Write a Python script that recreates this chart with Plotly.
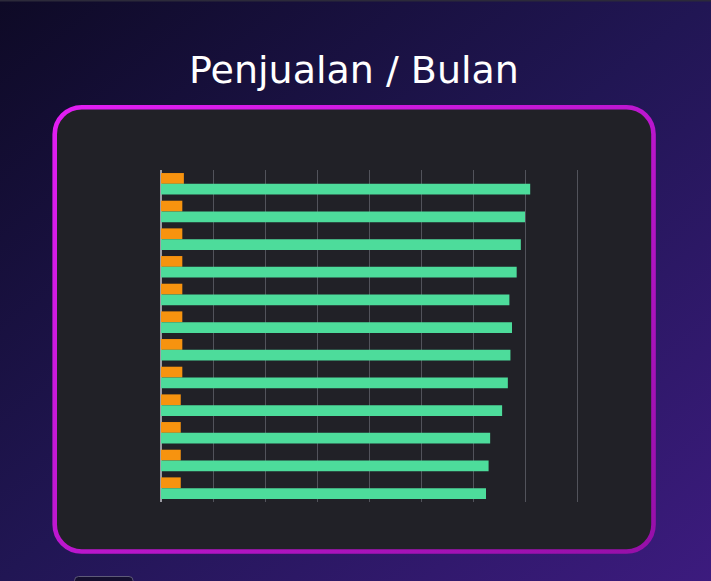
import base64
import plotly.graph_objects as go

# ---- data ----
months = ["Jan", "Feb", "Mar", "Apr", "Mei", "Jun", "Jul", "Agu", "Sep", "Okt", "Nov", "Des"]
orange_values = [44, 41, 41, 41, 41, 41, 41, 41, 38, 38, 38, 38]
green_values = [710, 700, 692, 684, 670, 675, 672, 667, 656, 633, 630, 625]

W, H = 711, 581

bg_svg = f"""<svg xmlns='http://www.w3.org/2000/svg' width='{W}' height='{H}' viewBox='0 0 {W} {H}' preserveAspectRatio='none'>
<defs>
<linearGradient id='bg' x1='0' y1='0' x2='1' y2='1'>
<stop offset='0' stop-color='#0e0a26'/><stop offset='0.5' stop-color='#211654'/><stop offset='1' stop-color='#3c1b7e'/>
</linearGradient>
<linearGradient id='bd' x1='0' y1='0' x2='1' y2='1'>
<stop offset='0' stop-color='#e21ef4'/><stop offset='1' stop-color='#960fa8'/>
</linearGradient>
</defs>
<rect width='{W}' height='{H}' fill='url(#bg)'/>
<rect x='0' y='0' width='{W}' height='1.5' fill='#2c2a3a'/>
<rect x='54.7' y='107.2' width='598.8' height='444.3' rx='27' ry='27' fill='#212127' stroke='url(#bd)' stroke-width='4.6'/>
<rect x='74.5' y='576.5' width='58.5' height='20' rx='4' ry='4' fill='#150f30' stroke='#5e5a78' stroke-width='1'/>
</svg>"""
bg_uri = "data:image/svg+xml;base64," + base64.b64encode(bg_svg.encode()).decode()

fig = go.Figure()
fig.add_trace(go.Bar(
    y=months, x=orange_values, orientation="h", name="Unit",
    marker=dict(color="#f7930f", line=dict(width=0)),
))
fig.add_trace(go.Bar(
    y=months, x=green_values, orientation="h", name="Pendapatan",
    marker=dict(color="#4ddc9b", line=dict(width=0)),
))

x_max = 802
x0_px = 161
x1_px = x0_px + x_max * 0.52
y_top_px, y_bot_px = 170, 502

fig.update_layout(
    width=W, height=H,
    margin=dict(l=0, r=0, t=0, b=0),
    paper_bgcolor="#1a1240",
    plot_bgcolor="rgba(0,0,0,0)",
    barmode="group",
    bargap=0.22,
    bargroupgap=0,
    showlegend=False,
    images=[dict(
        source=bg_uri, xref="paper", yref="paper", x=0, y=1,
        sizex=1, sizey=1, sizing="stretch", layer="below",
        xanchor="left", yanchor="top",
    )],
    xaxis=dict(
        domain=[x0_px / W, x1_px / W],
        range=[0, x_max], dtick=100, tick0=0,
        showgrid=True, gridcolor="#52535b", gridwidth=1,
        zeroline=True, zerolinecolor="#9c9ca4", zerolinewidth=1.5,
        showticklabels=False, ticks="", showline=False,
    ),
    yaxis=dict(
        domain=[1 - y_bot_px / H, 1 - y_top_px / H],
        autorange="reversed",
        showgrid=False, zeroline=False,
        showticklabels=False, ticks="", showline=False,
    ),
    annotations=[dict(
        text="Penjualan / Bulan", xref="paper", yref="paper",
        x=354 / W, y=1 - 70 / H, xanchor="center", yanchor="middle",
        showarrow=False,
        font=dict(family="DejaVu Sans", size=38, color="#ffffff"),
    )],
)

fig.write_html("out.html")
